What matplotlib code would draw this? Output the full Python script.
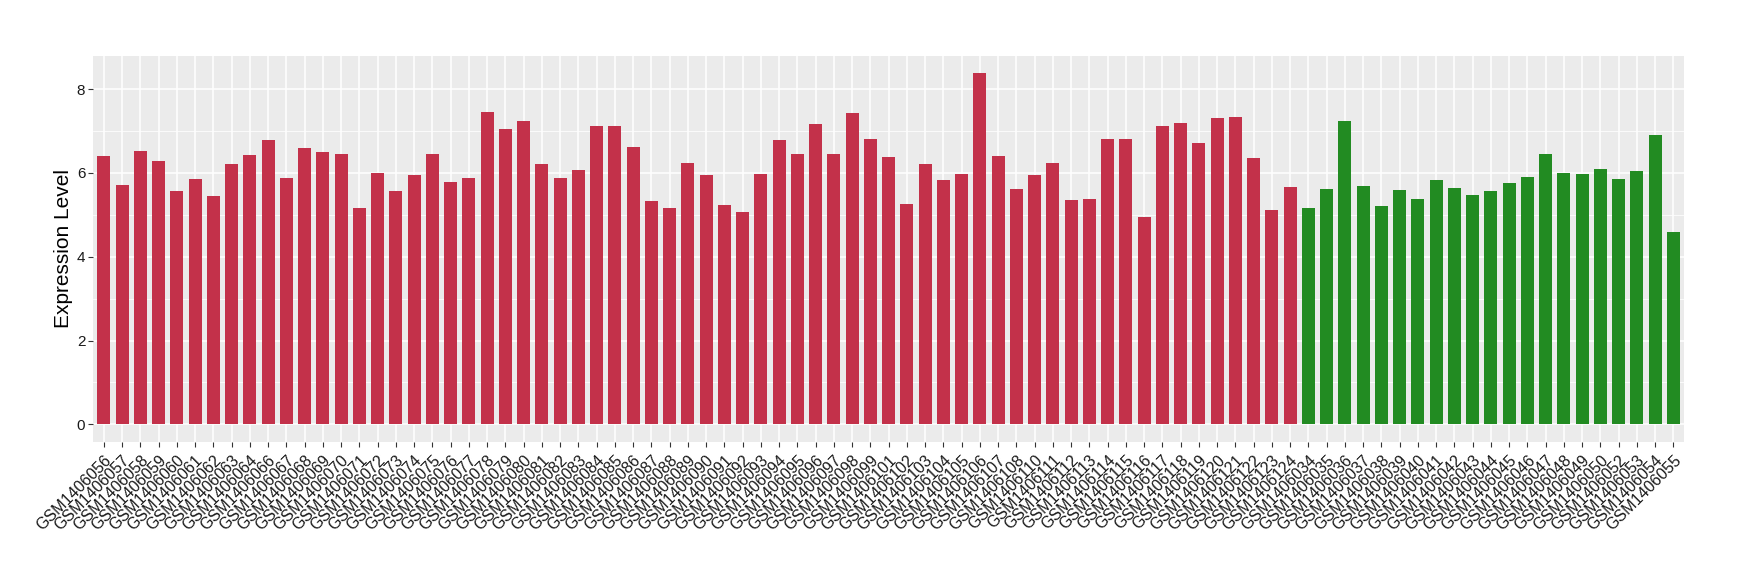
import matplotlib.pyplot as plt
import numpy as np

plt.rcParams['font.family'] = ['Liberation Sans', 'DejaVu Sans']

red_ids = ["056", "057", "058", "059", "060", "061", "062", "063", "064", "066",
           "067", "068", "069", "070", "071", "072", "073", "074", "075", "076",
           "077", "078", "079", "080", "081", "082", "083", "084", "085", "086",
           "087", "088", "089", "090", "091", "092", "093", "094", "095", "096",
           "097", "098", "099", "101", "102", "103", "104", "105", "106", "107",
           "108", "110", "111", "112", "113", "114", "115", "116", "117", "118",
           "119", "120", "121", "122", "123", "124"]
red_vals = [6.40, 5.71, 6.52, 6.28, 5.57, 5.86, 5.45, 6.21, 6.42, 6.78,
            5.88, 6.59, 6.49, 6.45, 5.17, 6.00, 5.57, 5.95, 6.45, 5.78,
            5.88, 7.46, 7.04, 7.25, 6.21, 5.88, 6.07, 7.13, 7.13, 6.61,
            5.33, 5.17, 6.23, 5.95, 5.24, 5.07, 5.97, 6.78, 6.45, 7.16,
            6.45, 7.44, 6.82, 6.38, 5.26, 6.21, 5.83, 5.97, 8.38, 6.40,
            5.62, 5.95, 6.23, 5.36, 5.38, 6.82, 6.82, 4.96, 7.13, 7.20,
            6.71, 7.32, 7.34, 6.35, 5.12, 5.67]
green_ids = ["034", "035", "036", "037", "038", "039", "040", "041", "042", "043",
             "044", "045", "046", "047", "048", "049", "050", "052", "053", "054",
             "055"]
green_vals = [5.17, 5.62, 7.23, 5.69, 5.22, 5.60, 5.38, 5.83, 5.64, 5.48,
              5.57, 5.76, 5.90, 6.45, 6.00, 5.97, 6.09, 5.86, 6.04, 6.90,
              4.60]

labels = ["GSM1406" + s for s in red_ids + green_ids]
values = red_vals + green_vals
colors = ["#C3314A"] * len(red_vals) + ["#228B22"] * len(green_vals)
x = np.arange(len(labels))

fig = plt.figure(figsize=(17.4, 5.8), dpi=100)
ax = fig.add_axes([0.0534, 0.238, 0.9146, 0.666])
ax.set_facecolor("#EBEBEB")
ax.bar(x, values, width=0.7, color=colors, zorder=3)

ymax = max(values)
ax.set_ylim(-0.05 * ymax, 1.05 * ymax)
ax.set_xlim(-0.6, len(labels) - 0.4)
ax.set_yticks([0, 2, 4, 6, 8])
ax.set_yticks([1, 3, 5, 7], minor=True)
ax.grid(which="major", color="white", linewidth=1.1, zorder=0)
ax.grid(which="minor", axis="y", color="white", linewidth=0.55, zorder=0)
ax.set_xticks(x)
ax.set_xticklabels(labels, rotation=45, ha="right", rotation_mode="anchor",
                   fontsize=11.5, color="#1A1A1A")
ax.tick_params(axis="y", labelsize=11, labelcolor="#1A1A1A", pad=2)
ax.tick_params(axis="x", pad=4)
ax.tick_params(which="both", color="#333333", length=3.5, width=0.8)
ax.tick_params(which="minor", length=0)
for s in ax.spines.values():
    s.set_visible(False)
ax.set_ylabel("Expression Level", fontsize=15, labelpad=3)

fig.savefig("out.png", dpi=100)
